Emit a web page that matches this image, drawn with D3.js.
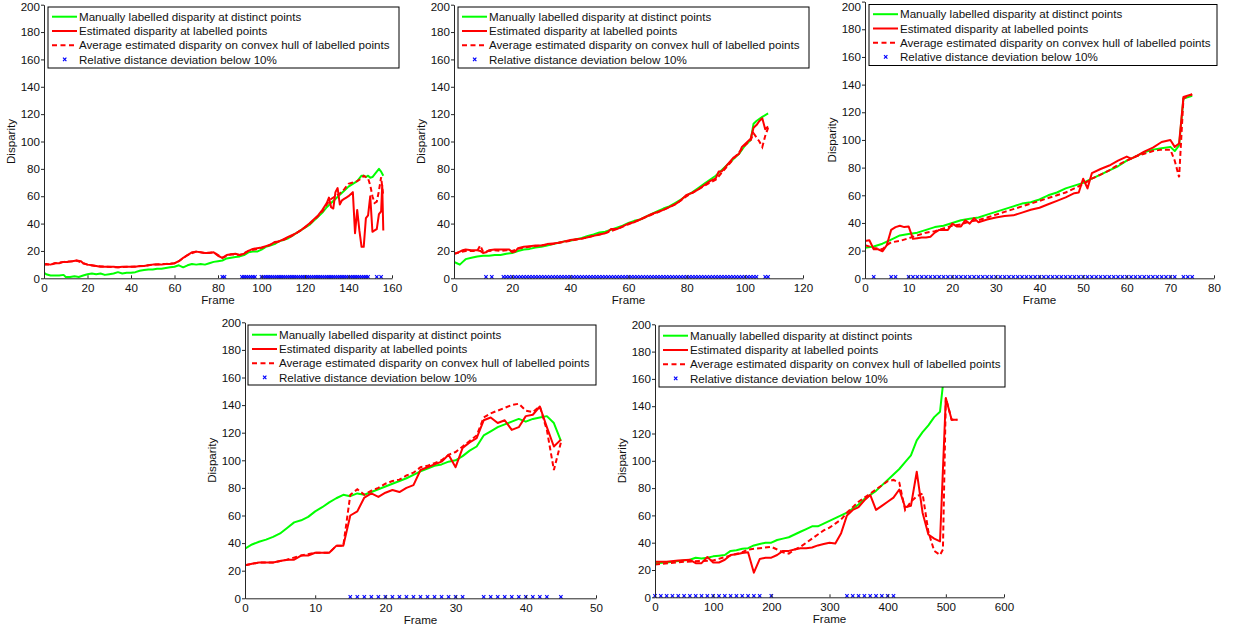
<!DOCTYPE html>
<html><head><meta charset="utf-8">
<script src="https://cdn.jsdelivr.net/npm/d3@7"></script>
<style>
body{margin:0;background:#fff;}
svg text{font-family:"Liberation Sans",Arial,Helvetica,sans-serif;}
</style></head><body>
<svg id="c" width="1234" height="630"></svg>
<script>
// ---------- DATA ----------
const legendLabels = [
  "Manually labelled disparity at distinct points",
  "Estimated disparity at labelled points",
  "Average estimated disparity on convex hull of labelled points",
  "Relative distance deviation below 10%"
];
const xLabel = "Frame";
const yLabel = "Disparity";
const yTicks = [0,20,40,60,80,100,120,140,160,180,200];

// Panel 1
const p1Manual = [[0,4],[1,3],[3,2],[5,2],[7,2],[9,2.5],[10,1],[12,1],[14,1.5],[16,1],[18,2],[20,3],[22,3.5],[24,3],[26,3.5],[28,2.5],[30,3],[32,3.5],[34,4.5],[36,3.5],[38,4],[40,4],[42,4.5],[44,5.5],[46,6],[48,6.5],[50,6.5],[52,7],[54,7],[56,7.5],[58,8],[60,8.5],[62,9.5],[64,8],[66,9.5],[68,10.5],[70,10],[72,10.5],[74,10],[76,11],[78,12],[80,12.5],[82,13],[84,14.5],[86,15],[88,15.5],[90,16],[92,17],[94,19],[96,19.5],[98,19.5],[100,21],[102,23],[104,24],[106,25],[108,27],[110,28],[112,29],[114,31],[116,33],[118,35],[120,37],[122,39],[124,42],[126,45],[128,48],[130,52],[132,55],[134,58],[136,61],[138,64],[140,67],[142,69],[144,71],[146,75],[147,75],[148,74],[149,75],[150,73.5],[151,74],[152,76],[153,78],[154,80],[155,78],[156,75]];
const p1Est = [[0,10],[1,10.5],[3,10],[5,11],[7,11],[9,12],[11,12],[13,12.5],[15,13],[17,12.5],[18,11],[20,10],[22,9.5],[24,9],[26,8.5],[28,8.5],[30,8.5],[32,8.5],[34,8],[36,8.5],[38,8.5],[40,8.5],[42,8.5],[44,9],[46,9],[48,9.5],[50,10],[52,10],[54,10],[56,10.5],[58,10.5],[60,11],[62,12.5],[64,15],[66,17],[68,19],[70,19.5],[72,19],[74,18.5],[76,18.5],[78,19],[80,16.5],[82,15],[84,17],[86,17.5],[88,18],[90,17],[92,18],[94,20],[96,21.5],[98,22],[100,22.5],[102,23.5],[104,24.5],[106,26.5],[108,27],[110,28.5],[112,30],[114,31.5],[116,33],[118,35],[120,37.5],[122,40],[124,43],[126,46],[128,50],[130,55],[131,59],[132,52],[133,51],[134,63],[135,66],[136,54],[137,57],[138,58],[139,59],[140,60],[141,61.5],[142,63],[143,33],[144,50],[145,35],[146,23],[147,23],[148,44],[149,46],[150,60],[151,34],[152,35],[153,36],[154,47],[155,49],[155.5,68],[156,35]];
const p1Avg = [[0,10],[3,10],[5,11],[9,12],[13,12.5],[15,13],[18,11],[20,10],[24,9],[28,8.5],[34,8],[40,8.5],[46,9],[50,10],[56,10.5],[60,11],[62,12.5],[66,17],[70,19.5],[74,18.5],[78,19],[82,15],[86,17.5],[90,17],[94,20],[98,21.5],[102,23],[106,26],[110,28],[114,31],[118,35],[122,39.5],[126,45.5],[128,49],[130,54],[132,58],[134,60],[136,62],[138,65],[140,69],[142,70],[144,71],[146,73],[147,75],[148,74],[149,73],[150,68],[151,60],[152,55],[153,56],[154,64],[155,74],[156,60]];
const p1Below = [82,83,91,92,93,94,95,96,97,100,101,102,103,104,105,106,107,108,109,110,111,112,113,114,115,116,117,118,119,120,121,122,123,124,125,126,127,128,129,130,131,132,133,134,135,136,137,138,139,140,141,142,143,144,145,146,147,148,149,153,155];

// Panel 2
const p2Manual = [[0,12],[1,11],[2,10],[3,12],[4,14],[6,15],[8,16],[10,16.5],[12,16.5],[14,17],[16,17],[18,18],[20,18.5],[22,20],[24,21],[26,21.5],[28,22.5],[30,23],[32,24],[34,25],[36,26],[38,27],[40,27.5],[42,28.5],[44,29.5],[46,31],[48,32],[50,33.5],[52,34],[54,35.5],[56,37],[58,38.5],[60,40.5],[62,42],[64,43],[66,45],[68,47],[70,49],[72,51],[74,52.5],[76,55],[78,57.5],[80,60.5],[82,63],[84,66],[86,69],[88,72],[90,75],[92,79],[94,83],[96,87],[98,91],[100,97],[102,101],[103,113],[104,115],[106,118],[108,120.5]];
const p2Est = [[0,18],[1,18.5],[2,19.5],[3,20.5],[4,21],[6,20.5],[8,20.5],[9,20],[10,18.5],[11,19],[12,20.5],[14,21],[16,21],[18,21],[19,21],[20,19],[21,19.5],[22,22],[24,23],[26,23.5],[28,24],[30,24],[32,25],[34,25.5],[36,26],[38,27],[40,28],[42,28.5],[44,29],[46,30],[48,31],[50,32],[52,33],[53,34],[54,36],[56,36],[58,38],[60,40],[62,41],[64,43],[66,45],[68,47],[70,48.5],[72,50],[74,52],[76,54],[78,57],[80,61],[82,62.5],[84,65],[86,68],[88,71],[90,73],[91,78],[92,78],[94,83],[96,88],[98,91],[99,96],[100,98],[102,102],[103,110],[104,112],[105,115],[106,117],[107,109],[108,111]];
const p2Avg = [[0,18],[2,19],[4,20],[6,20],[8,20],[9,24],[10,19.5],[12,20],[14,20.5],[16,20],[18,20.5],[20,20],[22,21.5],[24,22.5],[26,23],[28,23.5],[30,24],[32,24.5],[34,25],[36,26],[38,26.5],[40,27.5],[44,29],[48,31],[52,33],[56,36],[60,39.5],[64,43],[68,46.5],[72,50],[76,54],[80,60],[84,65],[88,70],[90,72],[92,77],[96,87],[100,97],[102,101],[103,106],[104,103],[105,100],[106,96],[107,104],[108,110]];
const p2Below = [11,13,17,18,19,20,21,22,23,24,25,26,27,28,29,30,31,32,33,34,35,36,37,38,39,40,41,42,43,44,45,46,47,48,49,50,51,52,53,54,55,56,57,58,59,60,61,62,63,64,65,66,67,68,69,70,71,72,73,74,75,76,77,78,79,80,81,82,83,84,85,86,87,88,89,90,91,92,93,94,95,96,97,98,99,100,101,102,103,104,107,108];

// Panel 3
const p3Manual = [[0,22],[2,23],[4,25],[6,28],[8,31],[10,32],[12,33],[14,35],[16,37],[18,38],[20,40],[22,42],[24,43],[26,44],[28,46],[30,48],[32,50],[34,52],[36,54],[38,55],[40,57],[42,60],[44,62],[46,65],[48,67],[50,69],[52,72],[54,75],[56,78],[58,81],[60,85],[62,88],[64,91],[66,93],[68,94],[70,95],[71,92],[72,96],[73,130],[75,132]];
const p3Est = [[0,27],[1,27.5],[2,21],[3,21],[4,19.5],[5,24],[6,35],[7,37],[8,38],[9,37],[10,37.5],[11,28.5],[12,29],[13,29.5],[14,29.5],[15,30],[16,33],[17,35],[18,35],[19,35],[20,39.5],[21,37.5],[22,37.5],[23,42],[24,39.5],[25,43.5],[26,40.5],[28,42.5],[30,44],[32,45],[34,45.5],[36,47.5],[38,49.5],[40,51],[42,53.5],[44,56],[46,58.5],[48,61.5],[49,62],[50,72],[51,65],[52,76],[54,79],[56,81.5],[58,85],[60,88],[61,86.5],[62,88],[64,91.5],[66,94.5],[68,98.5],[70,100],[71,95],[72,97.5],[73,131],[75,133]];
const p3Avg = [[0,24],[2,22],[4,21],[5,24],[6,26],[8,27],[10,29],[12,31],[14,33],[16,34],[18,36],[20,38],[22,39],[24,41],[26,42],[28,44],[30,46],[32,48],[34,50],[36,52],[38,54],[40,56],[42,58],[44,60],[46,62],[48,65],[50,68],[52,72],[54,75],[56,78],[58,82],[60,85],[62,88],[64,90],[66,92],[68,93],[70,93],[71,85],[72,73],[73,130],[75,133]];
const p3Below = [2,6,7,10,11,12,13,14,15,16,17,18,19,20,21,22,23,24,25,26,27,28,29,30,31,32,33,34,35,36,37,38,39,40,41,42,43,44,45,46,47,48,49,50,51,52,53,54,55,56,57,58,59,60,61,62,63,64,65,66,67,68,69,70,71,73,74,75];

// Panel 4
const p4Manual = [[0,36],[1,39],[2,41],[3,42.5],[4,44.5],[5,47],[6,51],[7,55],[8,56.5],[9,59],[10,63],[11,66],[12,69.5],[13,72.5],[14,75],[15,74],[16,76],[17,75],[18,77],[19,79],[20,81],[21,83],[22,85],[23,87],[24,89.5],[25,92],[26,94],[27,96],[28,97],[29,99],[30,100],[31,103],[32,107],[33,110],[34,118],[35,121],[36,124],[37,126],[38,128],[39,130],[40,128],[41,130],[42,131],[43,132],[44,127],[45,114]];
const p4Est = [[0,24],[1,25],[2,26],[3,26],[4,26],[5,27],[6,28],[7,28],[8,31],[9,31],[10,33],[11,33],[12,33],[13,38],[14,38],[15,60],[16,63],[17,73],[18,76],[19,73.5],[20,76.5],[21,78.5],[22,77],[23,80],[24,82],[25,93],[26,95],[27,97],[28,99],[29,104],[30,95],[31,109],[32,113],[33,116],[34,129],[35,131],[36,127],[37,129],[38,122],[39,124],[40,132],[41,133],[42,139],[43,124],[44,110],[45,115]];
const p4Avg = [[0,24],[2,26],[4,26],[6,28],[8,31],[10,33],[12,33],[13,38],[14,38],[15,75],[16,79],[17,75],[18,78],[19,80],[20,83],[21,85],[22,86],[23,89],[24,91],[25,95],[26,96],[27,98],[28,100],[29,104],[30,106],[31,110],[32,114],[33,118],[34,131],[35,134],[36,136],[37,138],[38,140],[39,141],[40,136],[41,135],[42,139],[43,122],[44,93],[45,113]];
const p4Below = [15,16,17,18,19,20,21,22,23,24,25,26,27,28,29,30,31,34,35,36,37,38,39,40,41,42,43,45];

// Panel 5
const p5Manual = [[0,25],[20,25.5],[40,26.5],[60,27.5],[70,29],[80,28.5],[90,29],[100,30],[110,30.5],[120,31],[130,34],[140,34.5],[150,35.5],[160,36],[170,38],[180,39],[190,40],[200,40],[210,42],[220,43],[230,44],[240,46],[250,48],[260,50],[270,52],[280,52],[290,54],[300,56],[310,58],[320,60],[330,62],[340,65],[350,68],[360,72],[370,75],[380,78],[390,82],[400,86],[410,90],[420,94],[430,99],[440,104],[450,115],[460,121],[470,126],[480,132],[490,136],[500,175]];
const p5Est = [[0,26],[20,26],[40,27],[60,27.5],[70,25],[80,25],[90,29.5],[100,25.5],[110,25.5],[120,27.5],[130,31],[140,31.5],[150,32.5],[160,33],[170,18],[180,28],[190,29],[200,29],[210,31],[220,34],[230,34],[240,35],[250,36],[260,36],[270,36.5],[280,38],[290,39],[300,40],[310,39.5],[320,47],[330,60],[340,64],[350,66],[360,71],[370,75],[380,64],[390,67],[400,70],[410,73],[420,79],[430,66],[440,67],[450,92],[460,62],[470,46],[480,43],[490,41],[500,146],[510,130],[520,130]];
const p5Avg = [[0,24],[50,26],[100,27],[150,33],[160,35],[180,36],[200,37],[210,35],[220,33],[230,32],[240,35],[250,37],[260,40],[270,43],[280,46],[290,49],[300,51],[310,54],[320,57],[330,62],[340,66],[350,70],[360,73],[370,76],[380,79],[390,82],[400,85],[410,86],[420,84],[430,64],[440,70],[450,74],[460,76],[465,62],[470,48],[480,34],[490,31],[495,35],[500,146],[510,130],[520,130]];
const p5Below = [0,10,20,30,40,50,60,70,80,90,100,110,120,130,140,150,160,170,180,200,330,340,350,360,370,380,390,400,410];

// ---------- LAYOUT ----------
const panels = [
  {manual:p1Manual, est:p1Est, avg:p1Avg, below:p1Below, xMax:160, xStep:20, l:44, r:392, t:4.7, b:278.3, lg:[48,7,351,61]},
  {manual:p2Manual, est:p2Est, avg:p2Avg, below:p2Below, xMax:120, xStep:20, l:454, r:803, t:4.7, b:278.3, lg:[458,7,351,61]},
  {manual:p3Manual, est:p3Est, avg:p3Avg, below:p3Below, xMax:80, xStep:10, l:865, r:1214, t:1.6, b:278.3, lg:[869,4.5,348,61]},
  {manual:p4Manual, est:p4Est, avg:p4Avg, below:p4Below, xMax:50, xStep:10, l:245, r:596, t:322.3, b:598.3, lg:[248,325,348,60]},
  {manual:p5Manual, est:p5Est, avg:p5Avg, below:p5Below, xMax:600, xStep:100, l:655, r:1004, t:324.3, b:597.3, lg:[659,326,346,61]}
];

const svg = d3.select("#c");
const FS = 11.6;
const GREEN = "#00ff00", RED = "#ff0000", BLUE = "#0000ff", AX = "#262626";

panels.forEach((p, i) => {
  const x = d3.scaleLinear().domain([0, p.xMax]).range([p.l, p.r]);
  const y = d3.scaleLinear().domain([0, 200]).range([p.b, p.t]);
  const g = svg.append("g");

  const clipId = "clip" + i;
  svg.append("clipPath").attr("id", clipId).append("rect")
    .attr("x", p.l).attr("y", p.t).attr("width", p.r - p.l).attr("height", p.b - p.t);

  const line = d3.line().x(d => x(d[0])).y(d => y(d[1]));
  const plot = g.append("g").attr("clip-path", `url(#${clipId})`);

  plot.append("path").datum(p.manual).attr("d", line)
    .attr("fill", "none").attr("stroke", GREEN).attr("stroke-width", 2).attr("stroke-linejoin", "round");
  plot.append("path").datum(p.avg).attr("d", line)
    .attr("fill", "none").attr("stroke", RED).attr("stroke-width", 2).attr("stroke-dasharray", "5,3");
  plot.append("path").datum(p.est).attr("d", line)
    .attr("fill", "none").attr("stroke", RED).attr("stroke-width", 2).attr("stroke-linejoin", "round");

  const xm = "M-1.7,-1.7L1.7,1.7M-1.7,1.7L1.7,-1.7";
  g.append("g").selectAll("path").data(p.below).join("path")
    .attr("d", xm).attr("transform", d => `translate(${x(d)},${y(1)})`)
    .attr("stroke", BLUE).attr("stroke-width", 1.1).attr("fill", "none");

  // axes
  const xAxis = d3.axisBottom(x).tickValues(d3.range(0, p.xMax + 1e-9, p.xStep))
    .tickSizeInner(-3).tickSizeOuter(0).tickPadding(5).tickFormat(d3.format("d"));
  const yAxis = d3.axisLeft(y).tickValues(yTicks).tickSizeInner(3).tickSizeOuter(0).tickPadding(1).tickFormat(d3.format("d"));
  const gx = g.append("g").attr("transform", `translate(0,${p.b})`).call(xAxis);
  const gy = g.append("g").attr("transform", `translate(${p.l},0)`).call(yAxis);
  [gx, gy].forEach(a => {
    a.select(".domain").attr("stroke", AX);
    a.selectAll(".tick line").attr("stroke", AX);
    a.selectAll("text").attr("fill", "#111").style("font-size", FS + "px")
      .style("font-family", '"Liberation Sans",Arial,sans-serif');
  });
  // keep the top tick label inside the page
  gy.selectAll(".tick text").attr("y", d => Math.max(0, 7 - y(d)));

  g.append("text").attr("x", (p.l + p.r) / 2).attr("y", p.b + 26)
    .attr("text-anchor", "middle").style("font-size", FS + "px").attr("fill", "#111").text(xLabel);
  g.append("text").attr("transform", `translate(${p.l - 29},${(p.t + p.b) / 2}) rotate(-90)`)
    .attr("text-anchor", "middle").style("font-size", FS + "px").attr("fill", "#111").text(yLabel);

  // legend
  const [lx, ly, lw, lh] = p.lg;
  const lgG = g.append("g");
  lgG.append("rect").attr("x", lx).attr("y", ly).attr("width", lw).attr("height", lh)
    .attr("fill", "#fff").attr("stroke", "#000").attr("stroke-width", 1);
  const rows = [9.7, 24, 38.2, 52.4];
  const styles = [
    {c: GREEN, dash: null}, {c: RED, dash: null}, {c: RED, dash: "5,3.5"}, {c: BLUE, marker: true}
  ];
  legendLabels.forEach((lab, k) => {
    const yy = ly + rows[k];
    const st = styles[k];
    if (st.marker) {
      lgG.append("path").attr("d", xm).attr("transform", `translate(${lx + 16.7},${yy})`)
        .attr("stroke", BLUE).attr("stroke-width", 1.2).attr("fill", "none");
    } else {
      lgG.append("line").attr("x1", lx + 4).attr("x2", lx + 29).attr("y1", yy).attr("y2", yy)
        .attr("stroke", st.c).attr("stroke-width", 2).attr("stroke-dasharray", st.dash);
    }
    lgG.append("text").attr("x", lx + 31).attr("y", yy + 4.1)
      .style("font-size", FS + "px").attr("fill", "#111").text(lab);
  });
});
</script>
</body></html>
